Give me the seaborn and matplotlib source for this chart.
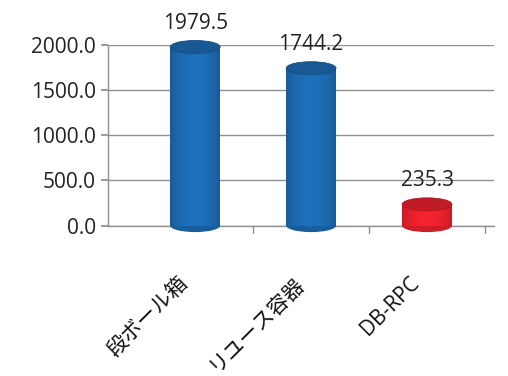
import numpy as np
import pandas as pd
import matplotlib
matplotlib.use("Agg")
import matplotlib.pyplot as plt
from matplotlib.patches import Ellipse
import matplotlib.colors as mcolors
import matplotlib.transforms as mtrans
import seaborn as sns

categories = ["段ボール箱", "リユース容器", "DB-RPC"]
values = [1979.5, 1744.2, 235.3]
bar_colors = ["#1c68ad", "#1c68ad", "#e3202c"]
yticks = [0, 500, 1000, 1500, 2000]

sns.set_theme(style="white")
plt.rcParams["font.family"] = ["Open Sans", "Noto Sans CJK JP", "DejaVu Sans"]

df = pd.DataFrame({"cat": categories, "val": values})

fig = plt.figure(figsize=(5.08, 3.76), dpi=100)
ax = fig.add_axes([0.213, 0.40, 0.76, 0.48])

sns.barplot(data=df, x="cat", y="val", hue="cat", palette=bar_colors,
            legend=False, width=0.43, ax=ax, zorder=3, edgecolor="none")

ax.set_ylim(0, 2000)
ax.set_yticks(yticks)
ax.set_yticklabels([f"{v:.1f}" for v in yticks], fontsize=15, color="#222222")
ax.set_xlabel("")
ax.set_ylabel("")
ax.grid(axis="y", color="#909090", linewidth=1.0, zorder=0)
for s in ["top", "right"]:
    ax.spines[s].set_visible(False)
for s in ["left", "bottom"]:
    ax.spines[s].set_color("#909090")
    ax.spines[s].set_linewidth(1.0)
ax.tick_params(axis="y", length=5, color="#909090", direction="out", left=True, pad=4)
ax.tick_params(axis="x", length=0, pad=34)
ax.set_xticks(range(len(categories)))
ax.set_xticklabels(categories, rotation=45, ha="right", rotation_mode="anchor",
                   fontsize=15, color="#111111")
shift = mtrans.ScaledTranslation(-18 / 100, 0, fig.dpi_scale_trans)
for lab in ax.get_xticklabels():
    lab.set_transform(lab.get_transform() + shift)
ax.set_xlim(-0.75, 2.58)
for b in [0.5, 1.5, 2.5]:
    ax.axvline(b, ymin=-0.04, ymax=0, color="#909090", lw=1.0, clip_on=False)

# cylinder look derived from the bar patches
px_per_unit = (0.48 * 376) / 2000.0
cap_h = 13 / px_per_unit
for p, c, v in zip(ax.patches, bar_colors, values):
    x, w, h = p.get_x(), p.get_width(), p.get_height()
    base = np.array(mcolors.to_rgb(c))
    grad = np.linspace(0, 1, 64)
    shade = 0.78 + 0.3 * np.sin(np.pi * (grad * 0.9 + 0.05)) ** 0.6
    img = np.clip(base[None, :] * shade[:, None], 0, 1)[None, :, :]
    im = ax.imshow(img, extent=[x, x + w, -cap_h / 2, h], aspect="auto",
                   zorder=3.5, interpolation="bilinear")
    bottom = Ellipse((x + w / 2, 0), w, cap_h, facecolor=tuple(np.clip(base * 0.9, 0, 1)),
                     edgecolor="none", zorder=3.2, clip_on=False)
    ax.add_patch(bottom)
    im.set_clip_path(p)
    p.set_facecolor(tuple(np.clip(base * 0.95, 0, 1)))
    top = Ellipse((x + w / 2, h), w, cap_h, facecolor=tuple(np.clip(base * 0.85, 0, 1)),
                  edgecolor=tuple(np.clip(base * 0.75, 0, 1)), lw=0.6, zorder=4, clip_on=False)
    ax.add_patch(top)
    ax.text(x + w / 2, h + cap_h * 1.0, f"{v:.1f}", ha="center", va="bottom",
            fontsize=15, color="#222222", zorder=5)

ax.set_xlim(-0.75, 2.58)
ax.set_ylim(0, 2000)
fig.savefig("out.png", dpi=100)
